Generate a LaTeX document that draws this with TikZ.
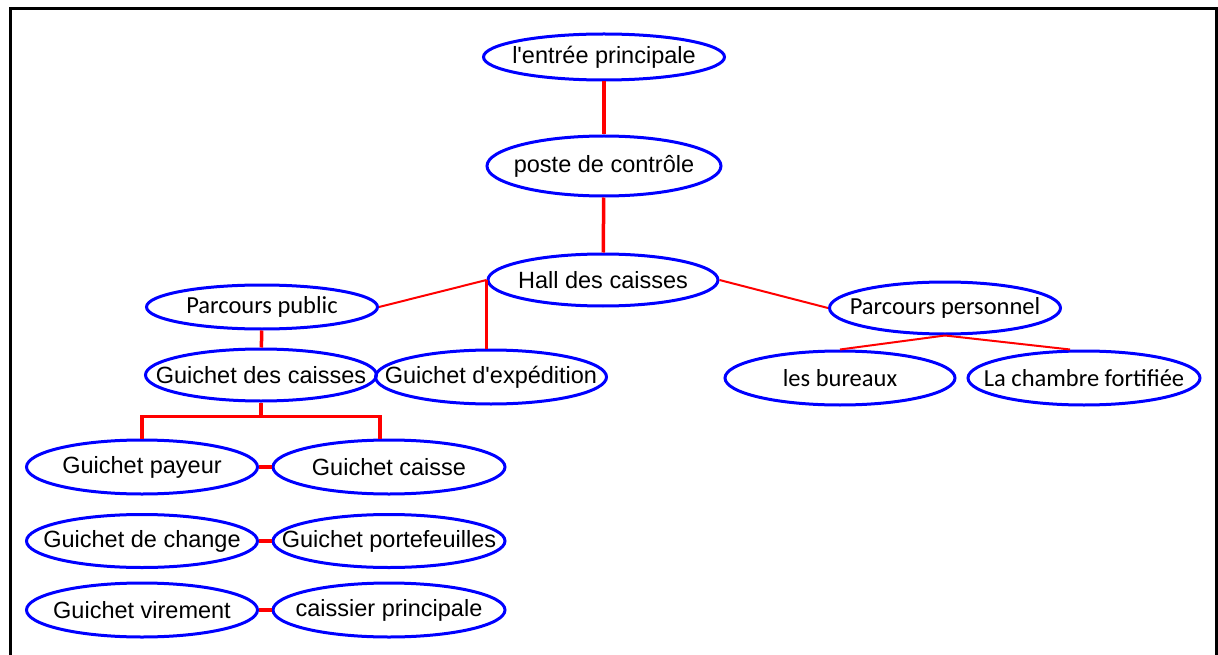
\documentclass[tikz,border=0pt]{standalone}
\usepackage{fontspec}
\usepackage{tikz}
\usetikzlibrary{shapes.geometric}
\setmainfont{Liberation Sans}
\newfontfamily\calibri{Carlito}
\definecolor{ringblue}{RGB}{0, 0, 255}
\definecolor{linkred}{RGB}{255, 0, 0}
\newcommand{\lbl}[1]{\makebox[0pt]{#1}}

\begin{document}
\begin{tikzpicture}[
        x=1pt, y=-1pt,
        bubble/.style={draw=ringblue, line width=3pt, ellipse, inner sep=0pt, minimum width=231pt, minimum height=54pt, font=\fontsize{23.5}{26}\selectfont},
        softbubble/.style={bubble, font=\calibri\fontsize{24.5}{27}\selectfont},
        link/.style={draw=linkred, line width=3.5pt},
        slant/.style={draw=linkred, line width=2pt}
    ]
        \useasboundingbox (0,0) rectangle (1218,655);
        \draw[line width=3pt, black] (10,655) -- (10,9) -- (1216.5,9) -- (1216.5,655);

        % trunk
        \node[bubble, minimum width=241pt, minimum height=46pt] (entree) at (604,57) {\lbl{l\textquotesingle entrée principale}};
        \node[bubble, minimum width=234pt, minimum height=60pt] (poste) at (604,166) {\lbl{poste de contrôle}};
        \node[bubble, minimum width=230pt, minimum height=52pt] (hall) at (603,280) {\lbl{Hall des caisses}};

        % public side
        \node[softbubble, minimum height=44pt] (ppublic) at (262,307) {\lbl{Parcours public}};
        \node[bubble, minimum height=52pt] (gcaisses) at (261,375) {\lbl{Guichet des caisses}};
        \node[bubble] (expedition) at (491,377) {\lbl{Guichet d\textquotesingle expédition}};

        \node[bubble] (payeur) at (142,467) {\lbl{Guichet payeur}};
        \node[bubble, minimum width=232pt] (caisse) at (389,467) {\lbl{Guichet caisse}};
        \node[bubble, minimum height=53pt] (change) at (142,541) {\lbl{Guichet de change}};
        \node[bubble, minimum width=232pt, minimum height=53pt] (portef) at (389,541) {\lbl{Guichet portefeuilles}};
        \node[bubble] (virement) at (142,610) {\lbl{Guichet virement}};
        \node[bubble, minimum width=232pt] (caissier) at (389,610) {\lbl{caissier principale}};

        % staff side
        \node[softbubble, minimum height=52pt] (ppersonnel) at (945,308) {\lbl{Parcours personnel}};
        \node[softbubble, minimum width=230pt] (bureaux) at (840,378) {\lbl{les bureaux}};
        \node[softbubble, minimum width=232pt] (chambre) at (1084,378) {\lbl{La chambre fortifiée}};

        \draw[link] (entree) -- (poste);
        \draw[link] (poste) -- (hall);
        \draw[slant] (hall.west) -- (ppublic.east);
        \draw[link] (hall.west) -- (hall.west |- expedition.north);
        \draw[slant] (hall.east) -- (ppersonnel.west);

        \draw[link] (ppublic) -- (gcaisses);
        \draw[link] (gcaisses.south) -- ++(0,14) -| (payeur.north);
        \draw[link] (gcaisses.south) -- ++(0,14) -| ([xshift=-9pt]caisse.north);
        \draw[link] (payeur) -- (caisse);
        \draw[link] (change) -- (portef);
        \draw[link] (virement) -- (caissier);

        \draw[slant] (ppersonnel.south) -- (bureaux.north);
        \draw[slant] (ppersonnel.south) -- ([xshift=-14pt]chambre.north);
    \end{tikzpicture}
\end{document}
